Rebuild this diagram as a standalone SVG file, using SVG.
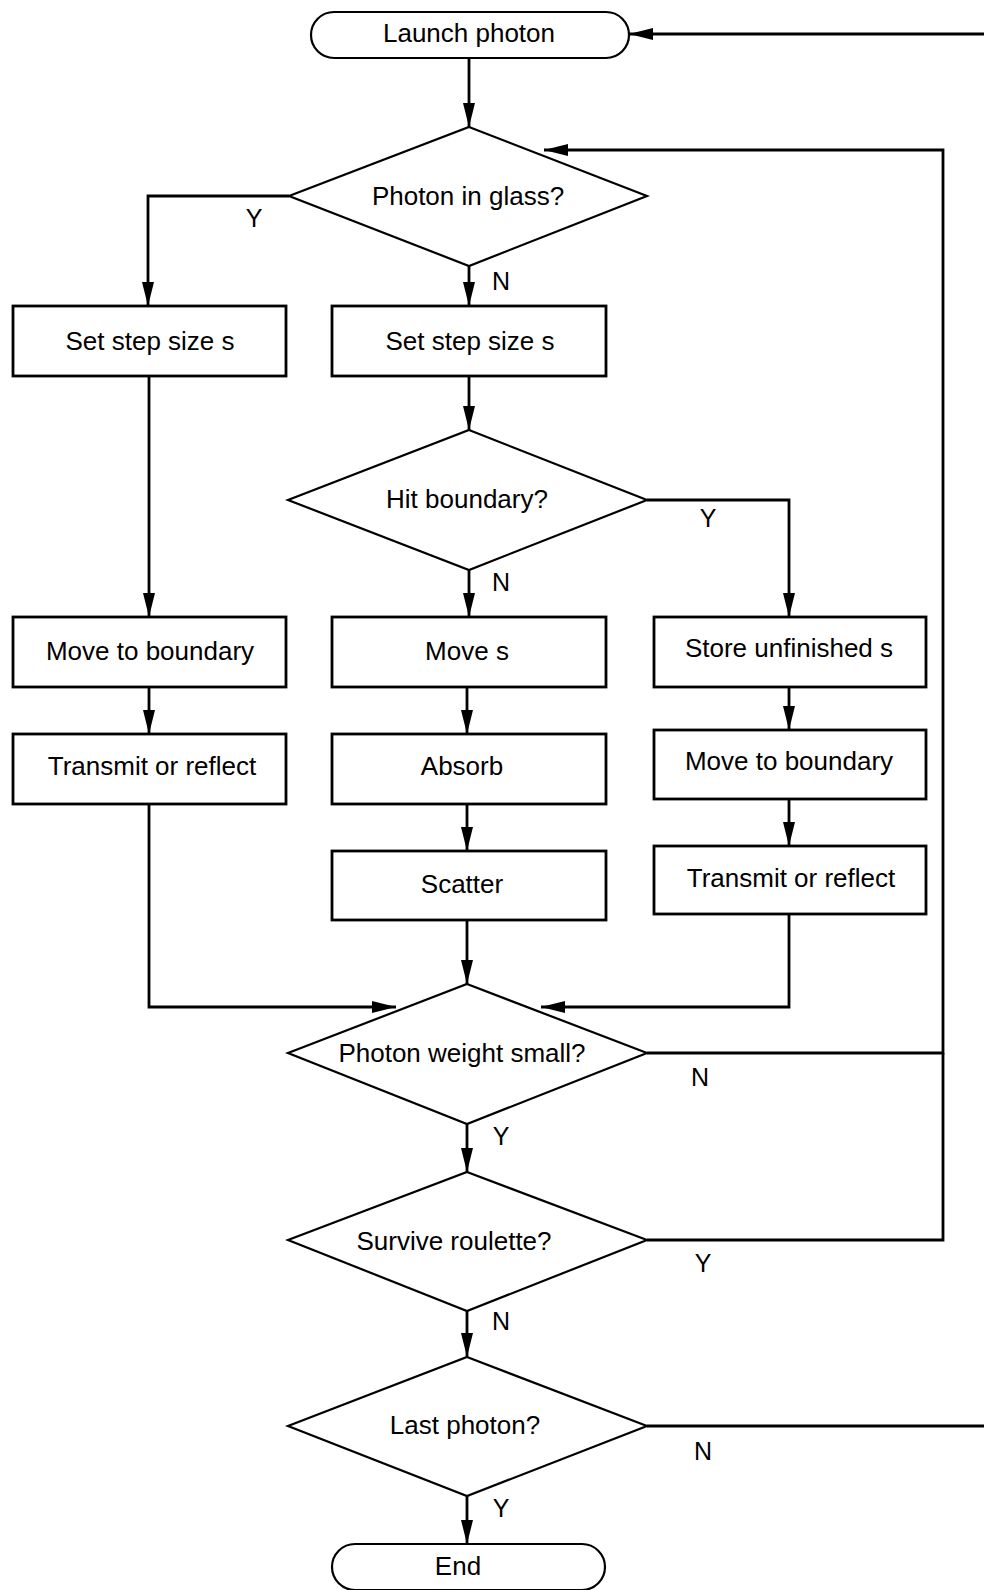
<svg xmlns="http://www.w3.org/2000/svg" width="984" height="1590" viewBox="0 0 984 1590">
<style>
.box{fill:#fff;stroke:#000;stroke-width:2.8}
.dia{fill:#fff;stroke:#000;stroke-width:2.2}
.term{fill:#fff;stroke:#000;stroke-width:2.2}
.t{font-family:"Liberation Sans",Arial,sans-serif;font-size:26px;fill:#000;text-anchor:middle}
.lbl{font-family:"Liberation Sans",Arial,sans-serif;font-size:25px;fill:#000;text-anchor:middle}
.c{fill:none;stroke:#000;stroke-width:2.8}
.a{marker-end:url(#arr)}
</style>
<defs>
<marker id="arr" markerUnits="userSpaceOnUse" markerWidth="26" markerHeight="14" refX="24" refY="6" orient="auto">
<path d="M0,0 L24,6 L0,12 z" fill="#000"/>
</marker>
</defs>
<rect width="984" height="1590" fill="#fff"/>
<g id="connectors">
<path class="c a" d="M469,58 L469,127"/>
<path class="c a" d="M289,196 L148,196 L148,306"/>
<path class="c a" d="M469,266 L469,306"/>
<path class="c a" d="M469,376 L469,430"/>
<path class="c a" d="M469,570 L469,617"/>
<path class="c a" d="M647,500 L789,500 L789,617"/>
<path class="c a" d="M149,376 L149,617"/>
<path class="c a" d="M149,687 L149,734"/>
<path class="c a" d="M149,804 L149,1007 L396,1007"/>
<path class="c a" d="M467,687 L467,734"/>
<path class="c a" d="M467,804 L467,851"/>
<path class="c a" d="M467,920 L467,984"/>
<path class="c a" d="M789,687 L789,730"/>
<path class="c a" d="M789,799 L789,846"/>
<path class="c a" d="M789,914 L789,1007 L541,1007"/>
<path class="c a" d="M647,1053 L943,1053 L943,150 L544,150"/>
<path class="c" d="M647,1240 L943,1240 L943,1053"/>
<path class="c a" d="M467,1124 L467,1172"/>
<path class="c a" d="M467,1311 L467,1357"/>
<path class="c a" d="M647,1426 L986,1426 L986,34 L629,34"/>
<path class="c a" d="M467,1496 L467,1544"/>
<text class="lbl" x="254" y="227">Y</text>
<text class="lbl" x="501" y="290">N</text>
<text class="lbl" x="501" y="591">N</text>
<text class="lbl" x="708" y="527">Y</text>
<text class="lbl" x="700" y="1086">N</text>
<text class="lbl" x="501" y="1145">Y</text>
<text class="lbl" x="703" y="1272">Y</text>
<text class="lbl" x="501" y="1330">N</text>
<text class="lbl" x="703" y="1460">N</text>
<text class="lbl" x="501" y="1517">Y</text>
</g>
<g id="launch"><rect class="term" x="311" y="12" width="318" height="46" rx="23" ry="23"/><text class="t" x="469" y="42">Launch photon</text></g>
<g id="inglass"><polygon class="dia" points="469,127 647,196 469,266 289,196"/><text class="t" x="468" y="205">Photon in glass?</text></g>
<g id="stepL"><rect class="box" x="13" y="306" width="273" height="70"/><text class="t" x="150" y="350">Set step size s</text></g>
<g id="stepC"><rect class="box" x="332" y="306" width="274" height="70"/><text class="t" x="470" y="350">Set step size s</text></g>
<g id="hit"><polygon class="dia" points="469,430 647,500 469,570 288,500"/><text class="t" x="467" y="508">Hit boundary?</text></g>
<g id="moveBL"><rect class="box" x="13" y="617" width="273" height="70"/><text class="t" x="150" y="660">Move to boundary</text></g>
<g id="moveS"><rect class="box" x="332" y="617" width="274" height="70"/><text class="t" x="467" y="660">Move s</text></g>
<g id="store"><rect class="box" x="654" y="617" width="272" height="70"/><text class="t" x="789" y="657">Store unfinished s</text></g>
<g id="transL"><rect class="box" x="13" y="734" width="273" height="70"/><text class="t" x="152" y="775">Transmit or reflect</text></g>
<g id="absorb"><rect class="box" x="332" y="734" width="274" height="70"/><text class="t" x="462" y="775">Absorb</text></g>
<g id="moveBR"><rect class="box" x="654" y="730" width="272" height="69"/><text class="t" x="789" y="770">Move to boundary</text></g>
<g id="scatter"><rect class="box" x="332" y="851" width="274" height="69"/><text class="t" x="462" y="893">Scatter</text></g>
<g id="transR"><rect class="box" x="654" y="846" width="272" height="68"/><text class="t" x="791" y="887">Transmit or reflect</text></g>
<g id="weight"><polygon class="dia" points="467,984 647,1053 467,1124 288,1053"/><text class="t" x="462" y="1062">Photon weight small?</text></g>
<g id="roulette"><polygon class="dia" points="467,1172 647,1240 467,1311 288,1240"/><text class="t" x="454" y="1250">Survive roulette?</text></g>
<g id="last"><polygon class="dia" points="467,1357 647,1426 467,1496 288,1426"/><text class="t" x="465" y="1434">Last photon?</text></g>
<g id="end"><rect class="term" x="332" y="1544" width="273" height="46" rx="23" ry="23"/><text class="t" x="458" y="1575">End</text></g>
</svg>
